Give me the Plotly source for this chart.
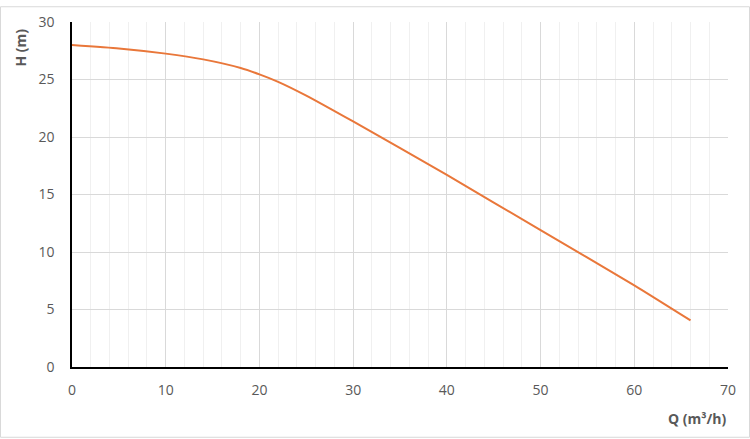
import plotly.graph_objects as go

flow_q = [0, 5, 10, 14, 18, 20, 22, 25, 30, 40, 50, 60, 66]
head_h = [28.0, 27.7, 27.25, 26.75, 26.0, 25.45, 24.8, 23.6, 21.35, 16.7, 11.9, 7.1, 4.05]

x_ticks = [0, 10, 20, 30, 40, 50, 60, 70]
y_ticks = [0, 5, 10, 15, 20, 25, 30]

W, H = 750, 439
L, R, T, B = 72, 22, 16, 72
pw, ph = W - L - R, H - T - B

fig = go.Figure()
fig.add_trace(go.Scatter(
    x=flow_q, y=head_h, mode="lines",
    line=dict(color="#E9773A", width=2, shape="spline", smoothing=0.5),
    showlegend=False, hoverinfo="skip"))

font_tick = dict(family="Open Sans, Noto Sans, sans-serif", size=14, color="#595959")
font_title = dict(family="Open Sans, Noto Sans, sans-serif", size=14, color="#595959")

fig.update_layout(
    width=W, height=H,
    margin=dict(l=L, r=R, t=T, b=B),
    paper_bgcolor="white", plot_bgcolor="white",
    xaxis=dict(range=[0, 70], tickvals=x_ticks, ticks="", showgrid=True,
               gridcolor="#d9d9d9", gridwidth=1,
               minor=dict(dtick=2, showgrid=True, gridcolor="#f0f0f0", gridwidth=1),
               showline=True, linecolor="black", linewidth=1.5,
               zeroline=False, tickfont=font_tick, ticklabelstandoff=9),
    yaxis=dict(range=[0, 30], tickvals=y_ticks, ticks="", showgrid=True,
               gridcolor="#d9d9d9", gridwidth=1,
               showline=True, linecolor="black", linewidth=1.5,
               zeroline=False, tickfont=font_tick, ticklabelstandoff=13),
    shapes=[dict(type="rect", xref="paper", yref="paper",
                 x0=(-L + 0.5) / pw, x1=1 + (R - 0.5) / pw,
                 y0=(-B + 0.5) / ph, y1=1 + (T - 0.5) / ph,
                 line=dict(color="#d9d9d9", width=1), layer="below")],
    annotations=[
        dict(text="<b>H (m)</b>", xref="paper", yref="paper",
             x=(21 - L) / pw, y=1 - (42 - T) / ph, textangle=-90,
             showarrow=False, xanchor="center", yanchor="middle",
             font=font_title),
        dict(text="<b>Q (m³/h)</b>", xref="paper", yref="paper",
             x=(697 - L) / pw, y=-(419 - T - ph) / ph,
             showarrow=False, xanchor="center", yanchor="middle",
             font=font_title),
    ],
)

fig.write_html("out.html", config={"displayModeBar": False},
               post_script="document.body.style.margin='0';document.body.style.overflow='hidden';")
